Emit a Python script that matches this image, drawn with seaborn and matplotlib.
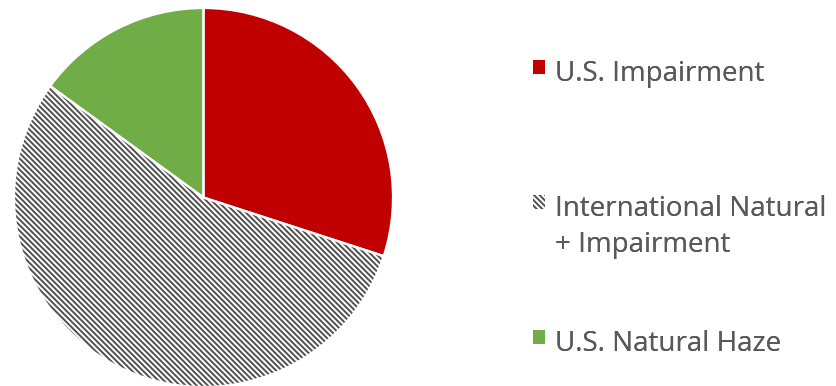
import matplotlib
matplotlib.use("Agg")
import matplotlib.pyplot as plt
import seaborn as sns

labels = ["U.S. Impairment", "International Natural\n+ Impairment", "U.S. Natural Haze"]
values = [30, 55, 15]
colors = ["#C00000", "#FFFFFF", "#70AD47"]
hatches = [None, "\\\\\\\\\\\\", None]
hatch_color = "#505050"
text_color = "#595959"

sns.set_theme(style="white")
plt.rcParams["font.family"] = ["Open Sans", "DejaVu Sans"]
plt.rcParams["hatch.linewidth"] = 1.4

fig = plt.figure(figsize=(8.36, 3.86), dpi=100)
W, H = 836, 386
cx, cy, r = 203.5, 386 - 197.5, 189.5
ax = fig.add_axes([(cx - r) / W, (cy - r) / H, 2 * r / W, 2 * r / H])

wedges, _ = ax.pie(values, colors=colors, startangle=90, counterclock=False,
                   wedgeprops=dict(linewidth=0))
for w, h in zip(wedges, hatches):
    if h:
        w.set_edgecolor(hatch_color)
        w.set_linewidth(0)
        w.set_hatch(h)
# white separators
ax.pie(values, colors=["none"] * len(values), startangle=90, counterclock=False,
       wedgeprops=dict(linewidth=1.6, edgecolor="white", facecolor="none"))
ax.set_xlim(-1, 1)
ax.set_ylim(-1, 1)
ax.set_aspect("equal")
ax.axis("off")

fs = 20
ys = [70, 205, 340]
for w, lab, y in zip(wedges, labels, ys):
    leg = fig.legend([w], [lab], loc="upper left",
                     bbox_to_anchor=(533 / W, 1 - (y - 10) / H),
                     frameon=False, fontsize=fs, handlelength=0.42, handleheight=0.42,
                     handletextpad=0.38, borderpad=0, borderaxespad=0, labelcolor=text_color)
    for t in leg.get_texts():
        t.set_linespacing(1.4)
    for col in leg._legend_handle_box.get_children():
        for item in col.get_children():
            item.align = "top"
    fig.add_artist(leg)

fig.savefig("out.png", dpi=100)
